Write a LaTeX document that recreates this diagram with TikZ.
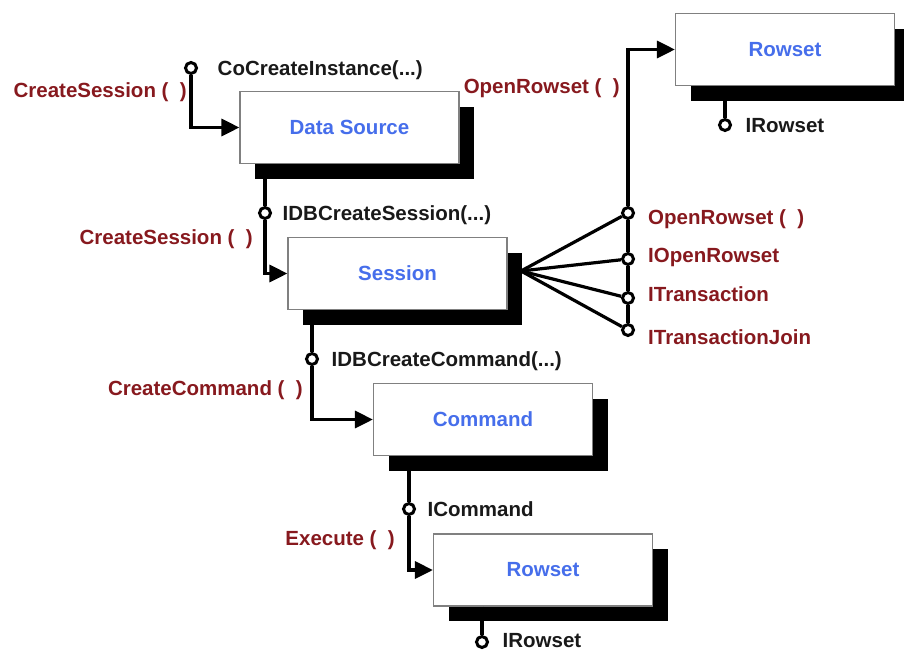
\documentclass[tikz,border=0pt]{standalone}
\usepackage{fontspec}
\setmainfont{Liberation Sans}
\usetikzlibrary{arrows.meta,positioning,shadows}

\definecolor{objblue}{RGB}{70,110,235}
\definecolor{mthred}{RGB}{135,25,30}

\begin{document}
\begin{tikzpicture}[x=1pt,y=-1pt,
  font=\fontsize{20.5}{24}\selectfont\bfseries,
  obj/.style={rectangle,draw=gray,line width=1.2pt,fill=white,
    minimum width=219pt,minimum height=72pt,inner sep=0pt,text=objblue,
    drop shadow={shadow xshift=15pt,shadow yshift=-15pt,fill=black,opacity=1}},
  iface/.style={circle,draw,line width=3pt,fill=white,minimum size=11pt,inner sep=0pt},
  wire/.style={line width=3.2pt},
  call/.style={wire,-{Triangle[length=18pt,width=17pt]}},
  lbl/.style={inner sep=0pt,text height=14.6pt,text depth=0pt,text=black!90},
  mth/.style={lbl,text=mthred}]
  \clip (0,0) rectangle (904,653);

  % objects
  \node[obj] (ds)   at (349.5,127.5) {Data Source};
  \node[obj] (sess) at (397.5,273.5) {Session};
  \node[obj] (cmd)  at (483,419.5)   {Command};
  \node[obj] (rs)   at (543,570)     {Rowset};
  \node[obj] (rtop) at (785,49.5)    {Rowset};

  % interfaces
  \node[iface] (coc)  at (191,68)  {};
  \node[iface] (dbs)  at (265,213) {};
  \node[iface] (dbc)  at (312,359) {};
  \node[iface] (icm)  at (409,509) {};
  \node[iface] (irs)  at (482,642) {};
  \node[iface] (irt)  at (725,125) {};
  \node[iface] (ors)  at (628,213) {};
  \node[iface] (iors) at (628,259) {};
  \node[iface] (itr)  at (628,298) {};
  \node[iface] (itj)  at (628,330) {};
  \coordinate (fan) at (521,271);

  % interface names
  \node[lbl,right=19.5pt of coc] (cocl) {CoCreateInstance(...)};
  \node[lbl,right=10.5pt of dbs] (dbsl) {IDBCreateSession(...)};
  \node[lbl,right=12.5pt of dbc] (dbcl) {IDBCreateCommand(...)};
  \node[lbl,right=11.5pt of icm] (icml) {ICommand};
  \node[lbl,right=13.5pt of irs,yshift=1.5pt] (irsl) {IRowset};
  \node[lbl,right=13.5pt of irt] (irtl) {IRowset};

  % methods
  \node[mth,anchor=east] (cs1) at (187,90)  {CreateSession ( ~)};
  \node[mth,anchor=east] (cs2) at (253,237) {CreateSession ( ~)};
  \node[mth,anchor=east] (crc) at (303,388) {CreateCommand ( ~)};
  \node[mth,anchor=east] (exe) at (395,538) {Execute ( ~)};
  \node[mth,anchor=east] (orl) at (620,86)  {OpenRowset ( ~)};
  \node[mth,anchor=west] (orsl)  at (648,217) {OpenRowset ( ~)};
  \node[mth,anchor=west] (iorsl) at (648,255) {IOpenRowset};
  \node[mth,anchor=west] (itrl)  at (648,294) {ITransaction};
  \node[mth,anchor=west] (itjl)  at (648,337) {ITransactionJoin};

  % connectors
  \draw[wire] (ds.south -| dbs) -- (dbs);
  \draw[wire] (sess.south -| dbc) -- (dbc);
  \draw[wire] (cmd.south -| icm) -- (icm);
  \draw[wire] (rs.south -| irs) -- (irs);
  \draw[wire] (rtop.south -| irt) -- (irt);
  \draw[call] (coc) |- (ds);
  \draw[call] (dbs) |- (sess);
  \draw[call] (dbc) |- (cmd);
  \draw[call] (icm) |- (rs);
  \draw[call] (ors) |- (rtop);
  \draw[wire] (ors) -- (iors);
  \draw[wire] (iors) -- (itr);
  \draw[wire] (itr) -- (itj);
  \draw[wire] (fan) -- (ors);
  \draw[wire] (fan) -- (iors);
  \draw[wire] (fan) -- (itr);
  \draw[wire] (fan) -- (itj);
\end{tikzpicture}
\end{document}
